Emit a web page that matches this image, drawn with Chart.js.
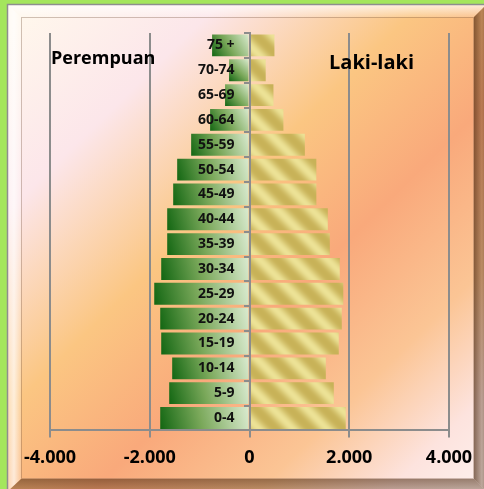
<!DOCTYPE html>
<html><head><meta charset="utf-8">
<style>html,body{margin:0;padding:0;background:#a4e65c;overflow:hidden}canvas{display:block}</style>
<script src="https://cdn.jsdelivr.net/npm/chart.js@4"></script>
</head><body>
<canvas id="c" width="484" height="489"></canvas>
<script>
const ageGroups = ['75 +','70-74','65-69','60-64','55-59','50-54','45-49','40-44','35-39','30-34','25-29','20-24','15-19','10-14','5-9','0-4'];
const femaleValues = [750,410,490,790,1170,1450,1530,1650,1650,1770,1910,1790,1770,1550,1610,1790];
const maleValues = [500,325,480,680,1110,1340,1340,1570,1610,1810,1880,1850,1790,1530,1690,1930];
const seriesNames = ['Perempuan','Laki-laki'];
const xTickValues = [-4000,-2000,0,2000,4000];
const xTickLabels = ['-4.000','-2.000','0','2.000','4.000'];

const FONT = "'Open Sans', 'Noto Sans', sans-serif";

function makeGoldPattern(){
  const P = 34;
  const cv = document.createElement('canvas'); cv.width = P; cv.height = P;
  const cx = cv.getContext('2d');
  const img = cx.createImageData(P, P);
  const dark = [200,178,88], bright = [236,226,150];
  for (let y=0;y<P;y++) for (let x=0;x<P;x++){
    const t = (((x - y) % P) + P) % P / P;
    let f = 0.5 + 0.5*Math.cos(2*Math.PI*t);
    f = Math.pow(f, 1.3);
    const i = (y*P+x)*4;
    for (let k=0;k<3;k++) img.data[i+k] = Math.round(dark[k] + (bright[k]-dark[k])*f);
    img.data[i+3] = 255;
  }
  cx.putImageData(img,0,0);
  return document.getElementById('c').getContext('2d').createPattern(cv,'repeat');
}
const goldPattern = makeGoldPattern();

function femaleColor(ctx){
  const chart = ctx.chart;
  const xs = chart.scales && chart.scales.x, ys = chart.scales && chart.scales.y;
  if (!xs || !ys || ctx.type !== 'data') return '#4a8a3a';
  const v = ctx.raw;
  const x0 = xs.getPixelForValue(v), x1 = xs.getPixelForValue(0);
  const yc = ys.getPixelForValue(ctx.dataIndex);
  if (![x0,x1,yc].every(Number.isFinite)) return '#4a8a3a';
  const h = 11;
  const g = chart.ctx.createLinearGradient(x0, yc + h, x1, yc - h);
  g.addColorStop(0, '#126612');
  g.addColorStop(0.45, '#7aa85a');
  g.addColorStop(1, '#dcecd2');
  return g;
}

const bgPlugin = {
  id: 'bg',
  beforeDraw(chart){
    const c = chart.ctx;
    c.save();
    c.fillStyle = '#a4e65c';
    c.fillRect(0,0,484,489);
    const ox=7, oy=4, ox2=487, oy2=492;
    const ix=21, iy=17, ix2=474, iy2=479;
    const g = c.createLinearGradient(ix,iy,ix2,iy2);
    g.addColorStop(0,'#fff7ec');
    g.addColorStop(0.2,'#fce6ea');
    g.addColorStop(0.42,'#fbc682');
    g.addColorStop(0.6,'#f9a97b');
    g.addColorStop(0.78,'#fbc595');
    g.addColorStop(0.92,'#fde3de');
    g.addColorStop(1,'#fdeeea');
    c.fillStyle = g;
    c.fillRect(ox,oy,ox2-ox,oy2-oy);
    const poly = (pts, fill) => { c.beginPath(); c.moveTo(pts[0][0],pts[0][1]); for (let i=1;i<pts.length;i++) c.lineTo(pts[i][0],pts[i][1]); c.closePath(); c.fillStyle=fill; c.fill(); };
    let tg = c.createLinearGradient(0,oy,0,iy);
    tg.addColorStop(0,'rgba(255,255,255,0.75)'); tg.addColorStop(1,'rgba(255,255,255,0.15)');
    poly([[ox,oy],[ox2,oy],[ix2,iy],[ix,iy]], tg);
    let lg = c.createLinearGradient(ox,0,ix,0);
    lg.addColorStop(0,'rgba(255,255,255,0.35)'); lg.addColorStop(0.5,'rgba(255,255,255,0.7)'); lg.addColorStop(1,'rgba(255,255,255,0.2)');
    poly([[ox,oy],[ix,iy],[ix,iy2],[ox,oy2]], lg);
    let rg = c.createLinearGradient(ix2,0,ox2,0);
    rg.addColorStop(0,'rgba(70,35,10,0.65)'); rg.addColorStop(0.6,'rgba(70,35,10,0.35)'); rg.addColorStop(1,'rgba(70,35,10,0.55)');
    poly([[ox2,oy],[ox2,oy2],[ix2,iy2],[ix2,iy]], rg);
    let bg = c.createLinearGradient(0,iy2,0,oy2);
    bg.addColorStop(0,'rgba(70,35,10,0.55)'); bg.addColorStop(1,'rgba(70,35,10,0.3)');
    poly([[ox,oy2],[ix,iy2],[ix2,iy2],[ox2,oy2]], bg);
    c.strokeStyle = '#8e8e8e'; c.lineWidth = 1.5;
    c.strokeRect(ox+0.5, oy+0.5, ox2-ox, oy2-oy);
    c.strokeStyle = 'rgba(120,90,70,0.35)'; c.lineWidth = 1;
    c.strokeRect(ix+0.5, iy+0.5, ix2-ix-1, iy2-iy-1);
    c.restore();
  },
  afterDraw(chart){
    const c = chart.ctx;
    c.save();
    c.fillStyle = '#000';
    c.textBaseline = 'alphabetic';
    c.textAlign = 'left';
    c.font = "bold 18px " + FONT;
    c.fillText(seriesNames[0], 51, 64);
    c.font = "bold 20px " + FONT;
    c.fillText(seriesNames[1], 329, 69);
    c.restore();
  }
};

new Chart(document.getElementById('c'), {
  type: 'bar',
  data: {
    labels: ageGroups,
    datasets: [
      { label: seriesNames[0], data: femaleValues.map(v => -v), backgroundColor: femaleColor, borderWidth: 0, barPercentage: 0.88, categoryPercentage: 1 },
      { label: seriesNames[1], data: maleValues, backgroundColor: goldPattern, borderWidth: 0, barPercentage: 0.88, categoryPercentage: 1 }
    ]
  },
  options: {
    indexAxis: 'y',
    responsive: false,
    animation: false,
    layout: { padding: { left: 50, right: 35, top: 33, bottom: 10 } },
    plugins: { legend: { display: false }, tooltip: { enabled: false } },
    scales: {
      x: {
        type: 'linear', min: -4000, max: 4000, stacked: true,
        afterBuildTicks: s => { s.ticks = xTickValues.map(v => ({ value: v })); },
        ticks: {
          callback: v => xTickLabels[xTickValues.indexOf(v)],
          font: { family: FONT, weight: 'bold', size: 18 }, color: '#000', padding: 10, maxRotation: 0, autoSkip: false
        },
        grid: { color: '#8c8c8c', lineWidth: 2, tickLength: 7, tickColor: '#8c8c8c' },
        border: { color: '#8c8c8c', width: 2 }
      },
      y: {
        stacked: true,
        position: { x: -300 },
        grid: { display: false, drawOnChartArea: false, drawTicks: false },
        border: { display: false },
        ticks: { font: { family: FONT, weight: 'bold', size: 14 }, color: '#111', z: 2 }
      },
      y2: {
        type: 'category',
        axis: 'y',
        offset: true,
        position: { x: 0 },
        grid: { offset: true, drawOnChartArea: false, tickLength: 5, color: '#8c8c8c', lineWidth: 2, z: 1 },
        border: { color: '#8c8c8c', width: 2, z: 1 },
        ticks: { color: 'rgba(0,0,0,0)', z: 1 }
      }
    }
  },
  plugins: [bgPlugin]
});
</script>
</body></html>
